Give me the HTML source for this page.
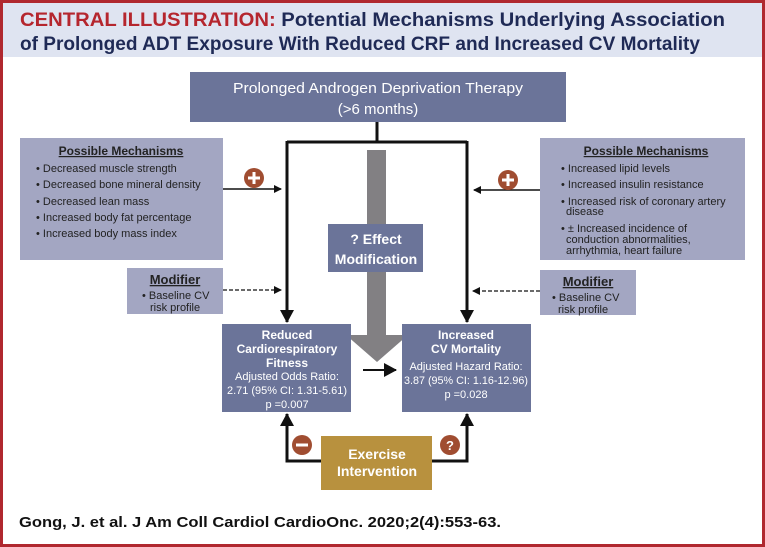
<!DOCTYPE html>
<html><head><meta charset="utf-8"><style>
html,body{margin:0;padding:0;background:#fff}
svg{display:block}
text{font-family:"Liberation Sans",sans-serif}
</style></head><body>
<svg width="765" height="547" viewBox="0 0 765 547" xmlns="http://www.w3.org/2000/svg">
<defs>
<marker id="ah" markerWidth="8" markerHeight="8" refX="7" refY="4" orient="auto" markerUnits="userSpaceOnUse"><path d="M0,0 L8,4 L0,8 z" fill="#111"/></marker>
<marker id="ah2" markerWidth="14" markerHeight="14" refX="12" refY="7" orient="auto" markerUnits="userSpaceOnUse"><path d="M0,0 L13,7 L0,14 z" fill="#111"/></marker>
</defs>
<rect x="0" y="0" width="765" height="547" fill="#fff"/>
<rect x="0" y="0" width="765" height="57" fill="#dfe4f1"/>
<rect x="1.5" y="1.5" width="762" height="544" fill="none" stroke="#b0282f" stroke-width="3"/>
<text x="20" y="26" font-size="19" font-weight="bold" textLength="705" lengthAdjust="spacingAndGlyphs"><tspan fill="#b5262e">CENTRAL ILLUSTRATION: </tspan><tspan fill="#1f2a56">Potential Mechanisms Underlying Association</tspan></text>
<text x="20" y="50" font-size="19" font-weight="bold" fill="#1f2a56" textLength="680" lengthAdjust="spacingAndGlyphs">of Prolonged ADT Exposure With Reduced CRF and Increased CV Mortality</text>

<rect x="190" y="72" width="376" height="50" fill="#6b7499"/>
<text x="378" y="93" font-size="15" fill="#fff" text-anchor="middle" textLength="290" lengthAdjust="spacingAndGlyphs">Prolonged Androgen Deprivation Therapy</text>
<text x="378" y="114" font-size="15" fill="#fff" text-anchor="middle">(&gt;6 months)</text>

<!-- grey arrow -->
<rect x="367" y="150" width="19" height="185" fill="#828083"/>
<path d="M346,335 L408,335 L377,362 z" fill="#828083"/>

<!-- connectors -->
<path d="M377,122 V142 M287,142 H467" stroke="#111" stroke-width="3" fill="none"/>
<line x1="287" y1="141" x2="287" y2="322" stroke="#111" stroke-width="3" marker-end="url(#ah2)"/>
<line x1="467" y1="141" x2="467" y2="322" stroke="#111" stroke-width="3" marker-end="url(#ah2)"/>

<!-- left mechanisms -->
<rect x="20" y="138" width="203" height="122" fill="#a3a6c2"/>
<text x="121" y="155" font-size="12" font-weight="bold" fill="#222" text-anchor="middle" text-decoration="underline">Possible Mechanisms</text>
<g font-size="11" fill="#222">
<text x="36" y="172">• Decreased muscle strength</text>
<text x="36" y="188">• Decreased bone mineral density</text>
<text x="36" y="205">• Decreased lean mass</text>
<text x="36" y="221">• Increased body fat percentage</text>
<text x="36" y="237">• Increased body mass index</text>
</g>
<line x1="223" y1="189" x2="281" y2="189" stroke="#111" stroke-width="1.5" marker-end="url(#ah)"/>
<circle cx="254" cy="178" r="10" fill="#a04d31"/>
<path d="M254,172 V184 M248,178 H260" stroke="#fff" stroke-width="3"/>

<!-- right mechanisms -->
<rect x="540" y="138" width="205" height="122" fill="#a3a6c2"/>
<text x="646" y="155" font-size="12" font-weight="bold" fill="#222" text-anchor="middle" text-decoration="underline">Possible Mechanisms</text>
<g font-size="11" fill="#222">
<text x="561" y="172">• Increased lipid levels</text>
<text x="561" y="188">• Increased insulin resistance</text>
<text x="561" y="205">• Increased risk of coronary artery</text>
<text x="566" y="215">disease</text>
<text x="561" y="232">• ± Increased incidence of</text>
<text x="566" y="243">conduction abnormalities,</text>
<text x="566" y="254">arrhythmia, heart failure</text>
</g>
<line x1="540" y1="190" x2="474" y2="190" stroke="#111" stroke-width="1.5" marker-end="url(#ah)"/>
<circle cx="508" cy="180" r="10" fill="#a04d31"/>
<path d="M508,174 V186 M502,180 H514" stroke="#fff" stroke-width="3"/>

<!-- effect modification -->
<rect x="328" y="224" width="95" height="48" fill="#6b7499"/>
<text x="376" y="244" font-size="14" font-weight="bold" fill="#fff" text-anchor="middle">? Effect</text>
<text x="376" y="264" font-size="14" font-weight="bold" fill="#fff" text-anchor="middle">Modification</text>

<!-- modifiers -->
<rect x="127" y="268" width="96" height="46" fill="#a3a6c2"/>
<text x="175" y="284" font-size="13" font-weight="bold" fill="#222" text-anchor="middle" text-decoration="underline">Modifier</text>
<text x="142" y="299" font-size="11" fill="#222">• Baseline CV</text>
<text x="150" y="311" font-size="11" fill="#222">risk profile</text>
<line x1="223" y1="290" x2="281" y2="290" stroke="#111" stroke-width="1.3" stroke-dasharray="4,2" marker-end="url(#ah)"/>
<rect x="540" y="270" width="96" height="45" fill="#a3a6c2"/>
<text x="588" y="286" font-size="13" font-weight="bold" fill="#222" text-anchor="middle" text-decoration="underline">Modifier</text>
<text x="552" y="301" font-size="11" fill="#222">• Baseline CV</text>
<text x="558" y="313" font-size="11" fill="#222">risk profile</text>
<line x1="540" y1="291" x2="473" y2="291" stroke="#111" stroke-width="1.3" stroke-dasharray="4,2" marker-end="url(#ah)"/>

<!-- outcome boxes -->
<rect x="222" y="324" width="129" height="88" fill="#6b7499"/>
<g fill="#fff" text-anchor="middle">
<text x="287" y="339" font-size="12" font-weight="bold">Reduced</text>
<text x="287" y="353" font-size="12" font-weight="bold">Cardiorespiratory</text>
<text x="287" y="367" font-size="12" font-weight="bold">Fitness</text>
<text x="287" y="380" font-size="11">Adjusted Odds Ratio:</text>
<text x="287" y="394" font-size="11" textLength="120" lengthAdjust="spacingAndGlyphs">2.71 (95% CI: 1.31-5.61)</text>
<text x="287" y="408" font-size="11">p =0.007</text>
</g>
<rect x="402" y="324" width="129" height="88" fill="#6b7499"/>
<g fill="#fff" text-anchor="middle">
<text x="466" y="339" font-size="12" font-weight="bold">Increased</text>
<text x="466" y="353" font-size="12" font-weight="bold">CV Mortality</text>
<text x="466" y="370" font-size="11">Adjusted Hazard Ratio:</text>
<text x="466" y="384" font-size="11" textLength="124" lengthAdjust="spacingAndGlyphs">3.87 (95% CI: 1.16-12.96)</text>
<text x="466" y="398" font-size="11">p =0.028</text>
</g>
<line x1="363" y1="370" x2="396" y2="370" stroke="#111" stroke-width="2" marker-end="url(#ah2)"/>

<!-- exercise -->
<path d="M321,461 H287 V414" stroke="#111" stroke-width="3" fill="none" marker-end="url(#ah2)"/>
<path d="M432,461 H467 V414" stroke="#111" stroke-width="3" fill="none" marker-end="url(#ah2)"/>
<rect x="321" y="436" width="111" height="54" fill="#b8913e"/>
<text x="377" y="459" font-size="14" font-weight="bold" fill="#fff" text-anchor="middle">Exercise</text>
<text x="377" y="476" font-size="14" font-weight="bold" fill="#fff" text-anchor="middle">Intervention</text>
<circle cx="302" cy="445" r="10" fill="#a04d31"/>
<path d="M296,445 H308" stroke="#fff" stroke-width="3"/>
<circle cx="450" cy="445" r="10" fill="#a04d31"/>
<text x="450" y="450" font-size="13" font-weight="bold" fill="#fff" text-anchor="middle">?</text>

<text x="19" y="527" font-size="15" font-weight="bold" fill="#111" textLength="482" lengthAdjust="spacingAndGlyphs">Gong, J. et al. J Am Coll Cardiol CardioOnc. 2020;2(4):553-63.</text>
</svg>
</body></html>
